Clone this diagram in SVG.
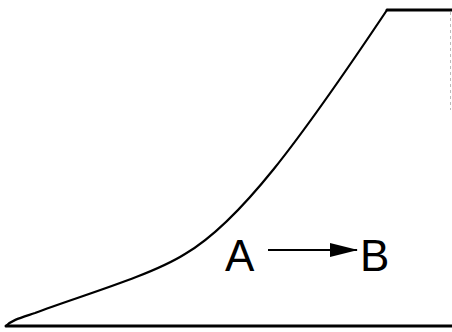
<svg xmlns="http://www.w3.org/2000/svg" width="452" height="332" viewBox="0 0 452 332">
<style>
.ln{fill:none;stroke:#000;stroke-linecap:round;stroke-linejoin:round}
.lb{font-family:"Liberation Sans",Arial,sans-serif;font-size:44px;fill:#000}
</style>
<defs>
<marker id="ah" markerWidth="28" markerHeight="16" refX="27" refY="8" orient="auto" markerUnits="userSpaceOnUse">
<path d="M0,1 L28,8 L0,15 Z" fill="#000"/>
</marker>
</defs>
<rect width="452" height="332" fill="#fff"/>
<g id="axes">
<path class="ln" d="M6,326 L452,326" stroke-width="3"/>
<path class="ln" d="M387,10 L452,10" stroke-width="3"/>
<path d="M450.5,12 L450.5,110" stroke="#bbb" stroke-width="1" stroke-dasharray="3,3" fill="none"/>
</g>
<g id="curve">
<path class="ln" stroke-width="2.2" d="M6,326 C12,320 20,318 35,313 C80,296 150,276 185,254 C240,222 300,140 387,10"/>
</g>
<g id="node-A"><text class="lb" x="225" y="271">A</text></g>
<g id="node-B"><text class="lb" x="360" y="271">B</text></g>
<g id="connectors">
<line x1="268" y1="250" x2="357" y2="250" stroke="#000" stroke-width="2.2" marker-end="url(#ah)"/>
</g>
</svg>
